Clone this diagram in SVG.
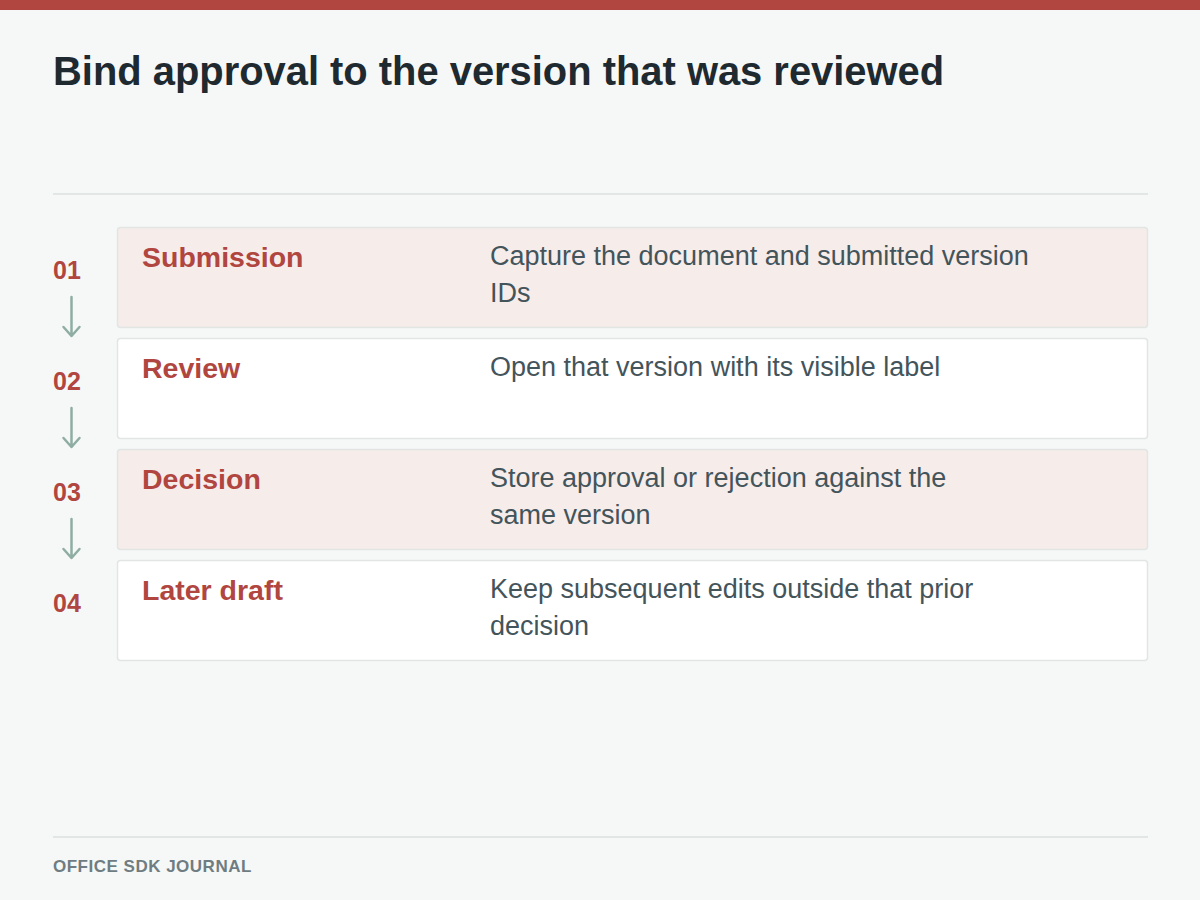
<svg xmlns="http://www.w3.org/2000/svg" width="1200" height="900" viewBox="0 0 1200 900">
<defs>
<style>
.bg{fill:#f6f8f7}
.bar{fill:#b0463f}
.title{font-family:"Liberation Sans",Arial,sans-serif;font-weight:bold;font-size:39.9px;fill:#1f2a30}
.rule{stroke:#e2e7e5;stroke-width:2}
.row{stroke:#e1e6e4;stroke-width:1.5}
.pink{fill:#f6ecea}
.white{fill:#ffffff}
.num{font-family:"Liberation Sans",Arial,sans-serif;font-weight:bold;font-size:25px;fill:#b0463f}
.lbl{font-family:"Liberation Sans",Arial,sans-serif;font-weight:bold;font-size:28.5px;fill:#b0463f}
.desc{font-family:"Liberation Sans",Arial,sans-serif;font-size:27px;fill:#44545b}
.foot{font-family:"Liberation Sans",Arial,sans-serif;font-weight:bold;font-size:17px;letter-spacing:0.5px;fill:#6f7d82}
.arr{stroke:#8fada3;stroke-width:2.5;fill:none;stroke-linecap:round;stroke-linejoin:round}
</style>
</defs>
<rect class="bg" x="0" y="0" width="1200" height="900"/>
<rect class="bar" x="0" y="0" width="1200" height="10"/>
<text class="title" x="53" y="85">Bind approval to the version that was reviewed</text>
<line class="rule" x1="53" y1="194" x2="1148" y2="194"/>

<g id="step1">
<rect class="row pink" x="117.5" y="227.5" width="1030" height="100" rx="3"/>
<text class="num" x="53" y="279">01</text>
<text class="lbl" x="142" y="267">Submission</text>
<text class="desc" x="490" y="265">Capture the document and submitted version</text>
<text class="desc" x="490" y="302">IDs</text>
</g>
<g id="step2">
<rect class="row white" x="117.5" y="338.5" width="1030" height="100" rx="3"/>
<text class="num" x="53" y="390">02</text>
<text class="lbl" x="142" y="378">Review</text>
<text class="desc" x="490" y="376">Open that version with its visible label</text>
</g>
<g id="step3">
<rect class="row pink" x="117.5" y="449.5" width="1030" height="100" rx="3"/>
<text class="num" x="53" y="501">03</text>
<text class="lbl" x="142" y="489">Decision</text>
<text class="desc" x="490" y="487">Store approval or rejection against the</text>
<text class="desc" x="490" y="524">same version</text>
</g>
<g id="step4">
<rect class="row white" x="117.5" y="560.5" width="1030" height="100" rx="3"/>
<text class="num" x="53" y="612">04</text>
<text class="lbl" x="142" y="600">Later draft</text>
<text class="desc" x="490" y="598">Keep subsequent edits outside that prior</text>
<text class="desc" x="490" y="635">decision</text>
</g>

<g id="connectors">
<path class="arr" d="M71.5 297 V336 M63.5 327 L71.5 336 L79.5 327"/>
<path class="arr" d="M71.5 408 V447 M63.5 438 L71.5 447 L79.5 438"/>
<path class="arr" d="M71.5 519 V558 M63.5 549 L71.5 558 L79.5 549"/>
</g>

<line class="rule" x1="53" y1="837" x2="1148" y2="837"/>
<text class="foot" x="53" y="872">OFFICE SDK JOURNAL</text>
</svg>
